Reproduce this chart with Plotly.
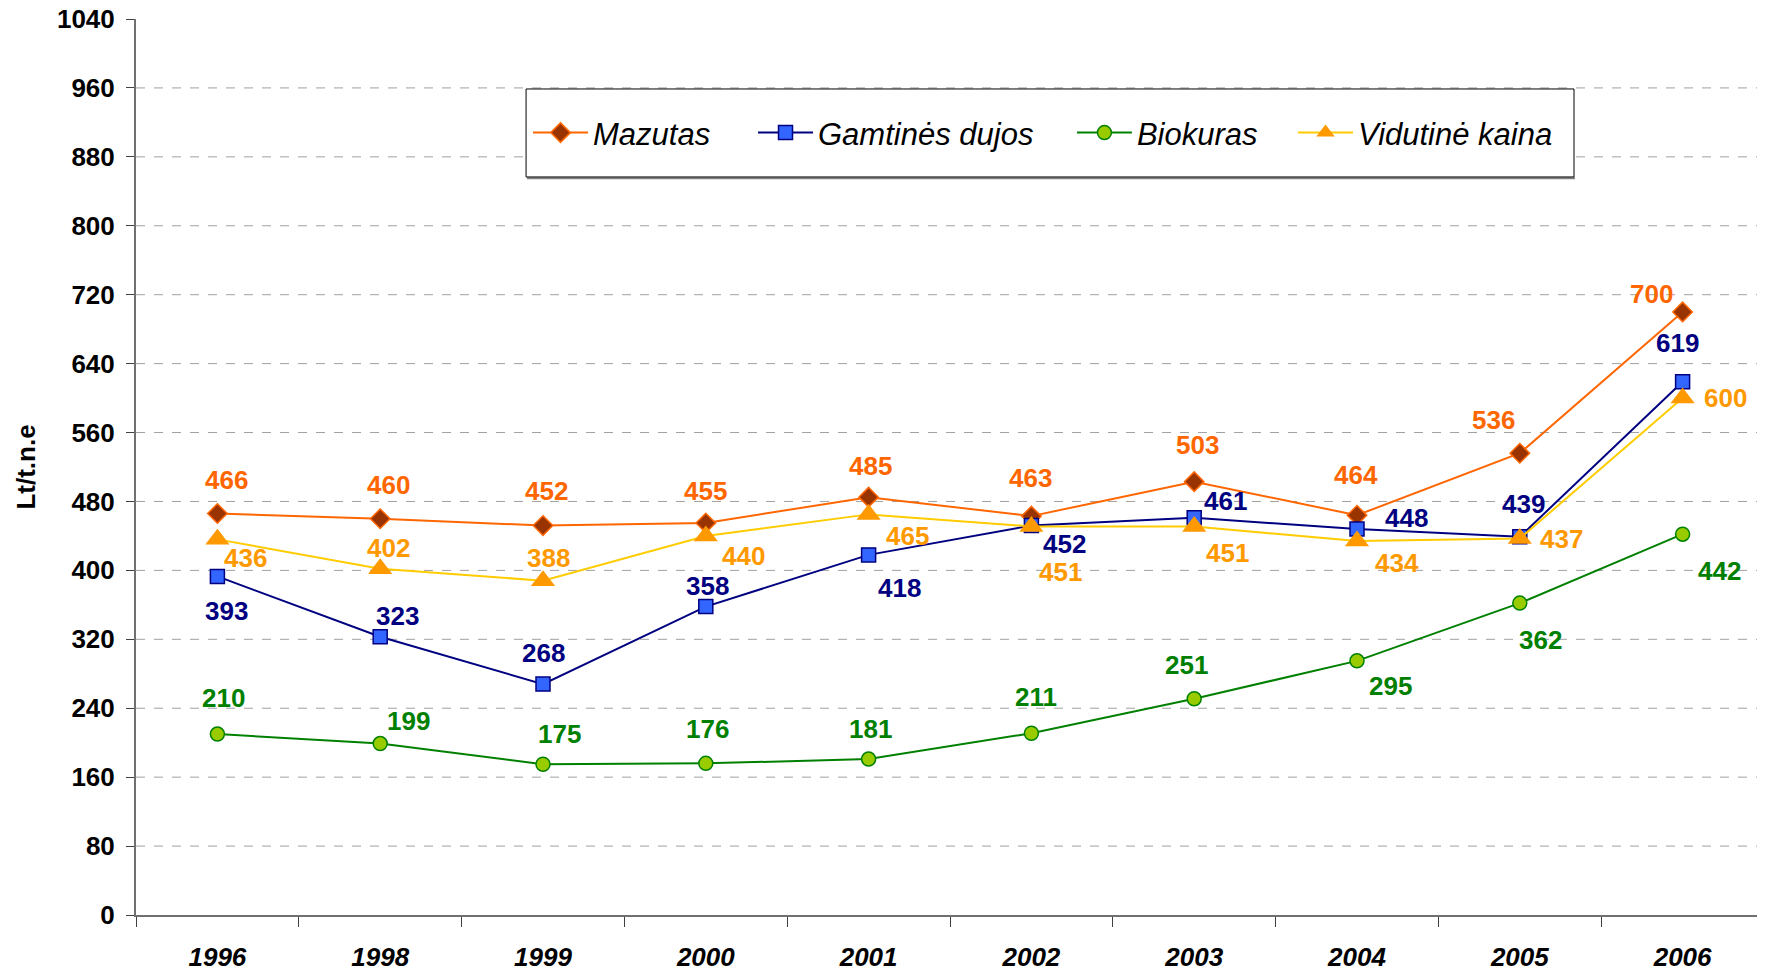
import plotly.graph_objects as go

years = ['1996', '1998', '1999', '2000', '2001', '2002', '2003', '2004', '2005', '2006']

mazutas = [466, 460, 452, 455, 485, 463, 503, 464, 536, 700]
dujos = [393, 323, 268, 358, 418, 452, 461, 448, 439, 619]
biokuras = [210, 199, 175, 176, 181, 211, 251, 295, 362, 442]
vidutine = [436, 402, 388, 440, 465, 451, 451, 434, 437, 600]

y_ticks = list(range(0, 1041, 80))

# label offsets in px (dx right, dy down) per point
mazutas_off = [(9, -34), (8, -34), (3, -35), (0, -32), (2, -31), (-1, -38), (3, -37), (-1, -40), (-26, -33), (-31, -18)]
dujos_off = [(9, 35), (17, -21), (0, -31), (2, -21), (31, 33), (33, 18), (31, -17), (49, -11), (4, -33), (-5, -39)]
biokuras_off = [(6, -36), (28, -23), (16, -30), (2, -34), (2, -30), (5, -36), (-8, -34), (33, 25), (21, 37), (37, 37)]
vidutine_off = [(28, 19), (8, -21), (5, -23), (38, 20), (39, 22), (29, 46), (33, 27), (40, 22), (42, 0), (43, 0)]

FONT = 'Liberation Sans, Arial, sans-serif'

series = [
    ('Mazutas', mazutas, mazutas_off, '#FF6600', dict(symbol='diamond', size=15, color='#993300', line=dict(color='#FF6600', width=1.5)), '#FF6600'),
    ('Gamtinės dujos', dujos, dujos_off, '#000080', dict(symbol='square', size=14, color='#3366FF', line=dict(color='#000080', width=1.5)), '#000080'),
    ('Biokuras', biokuras, biokuras_off, '#008000', dict(symbol='circle', size=14, color='#99CC00', line=dict(color='#008000', width=1.5)), '#008000'),
    ('Vidutinė kaina', vidutine, vidutine_off, '#FFCC00', dict(symbol='triangle-up', size=21, color='#FF9900', line=dict(width=0)), '#FF9900'),
]
legend_ids = ['legend', 'legend2', 'legend3', 'legend4']
legend_x = [0.2408, 0.3790, 0.5749, 0.7107]

fig = go.Figure()

# dashed grid lines (none on top edge)
for t in y_ticks[1:-1]:
    fig.add_shape(type='line', xref='paper', x0=0, x1=1, yref='y', y0=t, y1=t,
                  line=dict(color='#A0A0A0', width=1, dash='dash'), layer='below')

# legend frame with a little shadow at the bottom
fig.add_shape(type='line', xref='paper', yref='paper', x0=0.2402, x1=0.8839, y0=0.8222, y1=0.8222,
              line=dict(color='#808080', width=2), layer='below')
fig.add_shape(type='rect', xref='paper', yref='paper', x0=0.2396, x1=0.8833, y0=0.8237, y1=0.9219,
              line=dict(color='black', width=1), fillcolor='white', layer='below')

for (name, vals, offs, line_col, marker, lbl_col), lg in zip(series, legend_ids):
    fig.add_trace(go.Scatter(x=years, y=vals, name=name, mode='lines+markers', legend=lg,
                             line=dict(color=line_col, width=2), marker=marker))
    # annotations on a category axis take the category index
    for i, (v, (dx, dy)) in enumerate(zip(vals, offs)):
        fig.add_annotation(x=i, y=v, text=str(v), showarrow=False, xshift=dx, yshift=-dy,
                           font=dict(family=FONT, size=26, color=lbl_col, weight='bold'))

legends = {lg: dict(x=lx, y=0.8728, xanchor='left', yanchor='middle', bgcolor='rgba(0,0,0,0)',
                    borderwidth=0, font=dict(family=FONT, size=31, style='italic'), itemwidth=55)
           for lg, lx in zip(legend_ids, legend_x)}

# page body has an 8px margin, so the figure is a bit smaller than the window
fig.update_layout(
    width=1757, height=966,
    margin=dict(l=128, r=1, t=11, b=59),
    plot_bgcolor='white', paper_bgcolor='white',
    font=dict(family=FONT, color='black'),
    showlegend=True,
    **legends,
)

fig.update_xaxes(type='category', range=[-0.5, len(years) - 0.5], showline=True, linecolor='#707070', linewidth=2,
                 ticks='outside', tickson='boundaries', ticklen=10, tickcolor='#404040',
                 showgrid=False, ticklabelstandoff=18, automargin=False,
                 tickfont=dict(family=FONT, size=26, weight='bold', style='italic'))

fig.update_yaxes(range=[0, 1040], tickvals=y_ticks, showline=True, linecolor='#707070', linewidth=2,
                 ticks='outside', ticklen=8, tickcolor='#404040', showgrid=False, zeroline=False,
                 ticklabelstandoff=6, automargin=False, ticklabeloverflow='allow',
                 tickfont=dict(family=FONT, size=26, weight='bold'),
                 title=dict(text='Lt/t.n.e', font=dict(family=FONT, size=26, weight='bold'), standoff=14))

fig.write_html("out.html")
